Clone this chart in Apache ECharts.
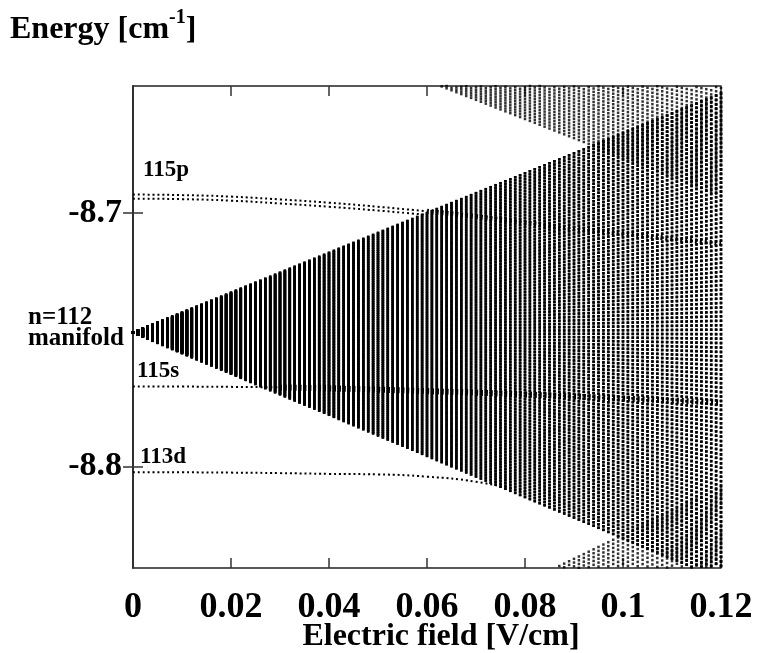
<!DOCTYPE html>
<html>
<head>
<meta charset="utf-8">
<script src="https://cdn.jsdelivr.net/npm/echarts@6/dist/echarts.min.js"></script>
<style>
html, body { margin: 0; padding: 0; background: #fff; }
#chart { width: 757px; height: 653px; }
</style>
</head>
<body>
<div id="chart"></div>
<script>
// axis ranges
var fieldMax = 0.12;
var fieldStep = 0.001;          // the map is sampled every 0.001 V/cm (one dot column each)
var energyMin = -8.84;
var energyMax = -8.65;
var energyTicks = [-8.8, -8.7];

// hydrogenic manifolds: zero-field energy, slopes of the upper / lower edge (cm-1 per V/cm), number of levels
var manifoldN = [111, 112, 113];
var manifoldE0 = [-8.921, -8.7472, -8.6026];
var manifoldUpSlope = [0.94, 0.785, 0.80];
var manifoldDownSlope = [0.80, 0.81, 0.755];
var manifoldLevels = [108, 110, 111];

// low-l states, read every 0.01 V/cm
var lowField = [0, 0.01, 0.02, 0.03, 0.04, 0.05, 0.06, 0.07, 0.08, 0.09, 0.10, 0.11, 0.12];
var p115a = [-8.6928, -8.6930, -8.6936, -8.6947, -8.6960, -8.6976, -8.6994, -8.7015, -8.7040, -8.7062, -8.7082, -8.7102, -8.7120];
var p115b = [-8.6944, -8.6946, -8.6952, -8.6963, -8.6976, -8.6991, -8.7008, -8.7028, -8.7052, -8.7074, -8.7094, -8.7113, -8.7130];
var s115 = [-8.7685, -8.7685, -8.7686, -8.7688, -8.7692, -8.7697, -8.7703, -8.7709, -8.7716, -8.7724, -8.7732, -8.7740, -8.7748];
var d113 = [-8.8023, -8.8023, -8.8024, -8.8026, -8.8029, -8.8031, -8.8040, -8.8060, -8.8100];

// index in lowField where a state enters the manifold
var p115Mix = 6;
var s115Mix = 3;

var serif = '"Liberation Serif", "Times New Roman", serif';

function pairs(vals, from, to) {
    var out = [];
    for (var i = from; i <= to && i < vals.length; i++) {
        out.push([lowField[i], vals[i]]);
    }
    return out;
}

// dots of one Stark manifold, one column per field step
function manifoldPoints(idx) {
    var pts = [];
    var n = manifoldLevels[idx];
    var steps = Math.round(fieldMax / fieldStep);
    for (var s = 0; s <= steps; s++) {
        var f = s * fieldStep;
        for (var k = 0; k < n; k++) {
            var slope = -manifoldDownSlope[idx] + (manifoldUpSlope[idx] + manifoldDownSlope[idx]) * k / (n - 1);
            var e = manifoldE0[idx] + slope * f;
            if (e >= energyMin && e <= energyMax) pts.push([f, e]);
        }
    }
    return pts;
}

var chart = echarts.init(document.getElementById('chart'));

var series = [];
for (var m = 0; m < manifoldN.length; m++) {
    series.push({
        name: 'n=' + manifoldN[m],
        type: 'scatter',
        large: true,
        largeThreshold: 1000,
        symbol: 'rect',
        symbolSize: 2.5,
        itemStyle: { color: '#000' },
        silent: true,
        data: manifoldPoints(m)
    });
}

function stateLine(name, vals, from, to, width) {
    return {
        name: name,
        type: 'line',
        smooth: true,
        symbol: 'none',
        silent: true,
        lineStyle: { color: '#000', width: width, type: [2, 2.9] },
        data: pairs(vals, from, to)
    };
}

series.push(stateLine('115p', p115a, 0, p115Mix, 2));
series.push(stateLine('115p', p115b, 0, p115Mix, 2));
series.push(stateLine('115p mixed', p115a, p115Mix, lowField.length - 1, 5));
series.push(stateLine('115s', s115, 0, s115Mix, 2));
series.push(stateLine('115s mixed', s115, s115Mix, lowField.length - 1, 6));
series.push(stateLine('113d', d113, 0, d113.length - 1, 2));

var axisLine = { show: true, lineStyle: { color: '#222', width: 1.5 } };
var tick = { show: true, inside: true, length: 10, lineStyle: { color: '#333', width: 1.5 } };

var option = {
    animation: false,
    backgroundColor: '#fff',
    grid: { left: 133, right: 36, top: 86, bottom: 85 },
    xAxis: [
        {
            type: 'value', min: 0, max: fieldMax, interval: 0.02,
            axisLine: axisLine, axisTick: tick, splitLine: { show: false },
            axisLabel: {
                margin: 22, color: '#000', fontFamily: serif, fontWeight: 'bold', fontSize: 36,
                formatter: function (v) { return String(Math.round(v * 100) / 100); }
            }
        },
        {
            type: 'value', position: 'top', min: 0, max: fieldMax, interval: 0.02,
            axisLine: axisLine, axisTick: tick, splitLine: { show: false },
            axisLabel: { show: false }
        }
    ],
    yAxis: [
        {
            type: 'value', min: energyMin, max: energyMax,
            axisLine: axisLine, splitLine: { show: false },
            axisTick: { show: true, inside: true, length: 10, lineStyle: { color: '#333', width: 1.5 }, customValues: energyTicks },
            axisLabel: {
                margin: 11, color: '#000', fontFamily: serif, fontWeight: 'bold', fontSize: 34,
                customValues: energyTicks,
                formatter: function (v) { return v.toFixed(1); }
            }
        },
        {
            type: 'value', position: 'right', min: energyMin, max: energyMax,
            axisLine: axisLine, splitLine: { show: false },
            axisTick: { show: true, inside: true, length: 10, lineStyle: { color: '#333', width: 1.5 }, customValues: energyTicks },
            axisLabel: { show: false, customValues: energyTicks }
        }
    ],
    graphic: [
        {
            type: 'text', left: 10, top: 8,
            style: {
                text: '{a|Energy [cm}{b|-1}{a|]}',
                rich: {
                    a: { fontFamily: serif, fontWeight: 'bold', fontSize: 32, lineHeight: 38, verticalAlign: 'bottom', fill: '#000' },
                    b: { fontFamily: serif, fontWeight: 'bold', fontSize: 20, lineHeight: 20, verticalAlign: 'top', fill: '#000' }
                }
            }
        },
        {
            type: 'text', x: 441, y: 637,
            style: { text: 'Electric field [V/cm]', font: 'bold 32px ' + serif, fill: '#000', textAlign: 'center', textVerticalAlign: 'middle' }
        },
        { type: 'text', x: 143, y: 159, style: { text: '115p', font: 'bold 23px ' + serif, fill: '#000' } },
        { type: 'text', x: 137, y: 360, style: { text: '115s', font: 'bold 23px ' + serif, fill: '#000' } },
        { type: 'text', x: 140, y: 446, style: { text: '113d', font: 'bold 23px ' + serif, fill: '#000' } },
        { type: 'text', x: 28, y: 305, style: { text: 'n=112', font: 'bold 25px ' + serif, fill: '#000' } },
        { type: 'text', x: 28, y: 326, style: { text: 'manifold', font: 'bold 25px ' + serif, fill: '#000' } }
    ],
    series: series
};

chart.setOption(option);
</script>
</body>
</html>
